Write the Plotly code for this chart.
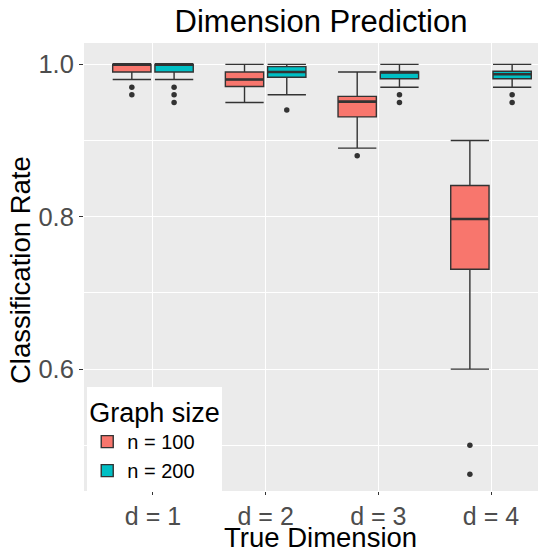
import plotly.graph_objects as go

categories = ["d = 1", "d = 2", "d = 3", "d = 4"]
groups = ["n = 100", "n = 200"]
colors = ["#F8766D", "#00BFC4"]

# precomputed box statistics per category
n100_upper = [1.00, 1.00, 0.99, 0.90]
n100_q3 = [1.00, 0.99, 0.958, 0.841]
n100_median = [1.00, 0.98, 0.951, 0.797]
n100_q1 = [0.99, 0.971, 0.931, 0.731]
n100_lower = [0.98, 0.95, 0.89, 0.60]
n100_outliers = [[0.97, 0.96], [], [0.88], [0.50, 0.462]]

n200_upper = [1.00, 1.00, 1.00, 1.00]
n200_q3 = [1.00, 0.997, 0.99, 0.991]
n200_median = [1.00, 0.99, 0.99, 0.987]
n200_q1 = [0.99, 0.983, 0.981, 0.981]
n200_lower = [0.98, 0.96, 0.97, 0.97]
n200_outliers = [[0.97, 0.96, 0.95], [0.94], [0.96, 0.95], [0.96, 0.95]]

stats = [
    (n100_lower, n100_q1, n100_median, n100_q3, n100_upper, n100_outliers),
    (n200_lower, n200_q1, n200_median, n200_q3, n200_upper, n200_outliers),
]

FONT = "Liberation Sans, Arial, sans-serif"
dodge = 0.1875
bw = 0.34
dark = "#333333"

# the page body has a default 8px margin, so the figure is drawn 8px in
OFF = 8
W, H = 546 - OFF, 556 - OFF
ML = 84 - OFF
MT = 43 - OFF
MB = H - (491 - OFF)
MR = 0
PW, PH = W - ML - MR, H - MT - MB


def px_to_paper(px, py):
    return (px - OFF - ML) / PW, (H - MB - (py - OFF)) / PH


fig = go.Figure()
for gi, (name, col, st) in enumerate(zip(groups, colors, stats)):
    lo, q1, med, q3, up, outl = st
    off = -dodge if gi == 0 else dodge
    xpos = [i + off for i in range(len(categories))]
    fig.add_trace(go.Box(
        x=xpos, q1=q1, median=med, q3=q3, lowerfence=lo, upperfence=up,
        width=bw, whiskerwidth=1, boxpoints=False,
        fillcolor=col, line=dict(color=dark, width=1.4),
        name=name, legendgroup=name, showlegend=True, orientation="v",
        hoverinfo="skip",
    ))
    # thicker median lines, as in ggplot
    mx, my = [], []
    for x, m in zip(xpos, med):
        mx += [x - bw / 2, x + bw / 2, None]
        my += [m, m, None]
    fig.add_trace(go.Scatter(x=mx, y=my, mode="lines",
                             line=dict(color=dark, width=2.6),
                             showlegend=False, legendgroup=name, hoverinfo="skip"))
    ox, oy = [], []
    for x, pts in zip(xpos, outl):
        for p in pts:
            ox.append(x)
            oy.append(p)
    fig.add_trace(go.Scatter(x=ox, y=oy, mode="markers",
                             marker=dict(color=dark, size=5.5),
                             showlegend=False, legendgroup=name, hoverinfo="skip"))

xt_x, xt_y = px_to_paper(320, 537)
yt_x, yt_y = px_to_paper(20, 270)

fig.update_layout(
    width=W, height=H,
    margin=dict(l=ML, r=MR, t=MT, b=MB, pad=0),
    paper_bgcolor="white", plot_bgcolor="#EBEBEB",
    font=dict(family=FONT, color="black"),
    title=dict(text="Dimension Prediction", font=dict(size=31, family=FONT, color="black"),
               x=(321 - OFF) / W, xref="container", xanchor="center",
               y=1 - (21 - OFF) / H, yref="container", yanchor="middle"),
    showlegend=True,
    legend=dict(
        title=dict(text="Graph size", font=dict(size=27, family=FONT, color="black")),
        font=dict(size=20, family=FONT, color="black"),
        x=0.007, y=0.0, xanchor="left", yanchor="bottom",
        bgcolor="white", borderwidth=0, tracegroupgap=0,
        entrywidth=100,
    ),
    annotations=[
        dict(text="True Dimension", xref="paper", yref="paper",
             x=xt_x, y=xt_y, xanchor="center", yanchor="middle",
             showarrow=False, font=dict(size=27.5, family=FONT, color="black")),
        dict(text="Classification Rate", xref="paper", yref="paper",
             x=yt_x, y=yt_y, xanchor="center", yanchor="middle",
             textangle=-90, showarrow=False,
             font=dict(size=27.5, family=FONT, color="black")),
    ],
)
fig.update_xaxes(
    tickmode="array", tickvals=list(range(len(categories))), ticktext=categories,
    range=[-0.612, 3.488], showgrid=True, gridcolor="white", gridwidth=1.3,
    zeroline=False, showline=False, automargin=False,
    ticks="outside", ticklen=3, tickcolor=dark, tickwidth=1,
    tickfont=dict(size=25, family=FONT, color="#4D4D4D"),
)
fig.update_yaxes(
    tickmode="array", tickvals=[0.6, 0.8, 1.0], ticktext=["0.6", "0.8", "1.0"],
    range=[0.44, 1.028], showgrid=True, gridcolor="white", gridwidth=1.3,
    zeroline=False, showline=False, automargin=False,
    ticks="outside", ticklen=4, tickcolor=dark, tickwidth=1,
    tickfont=dict(size=25.5, family=FONT, color="#4D4D4D"),
    minor=dict(tickvals=[0.5, 0.7, 0.9], showgrid=True, gridcolor="white", gridwidth=0.7),
)

fig.write_html("out.html")
